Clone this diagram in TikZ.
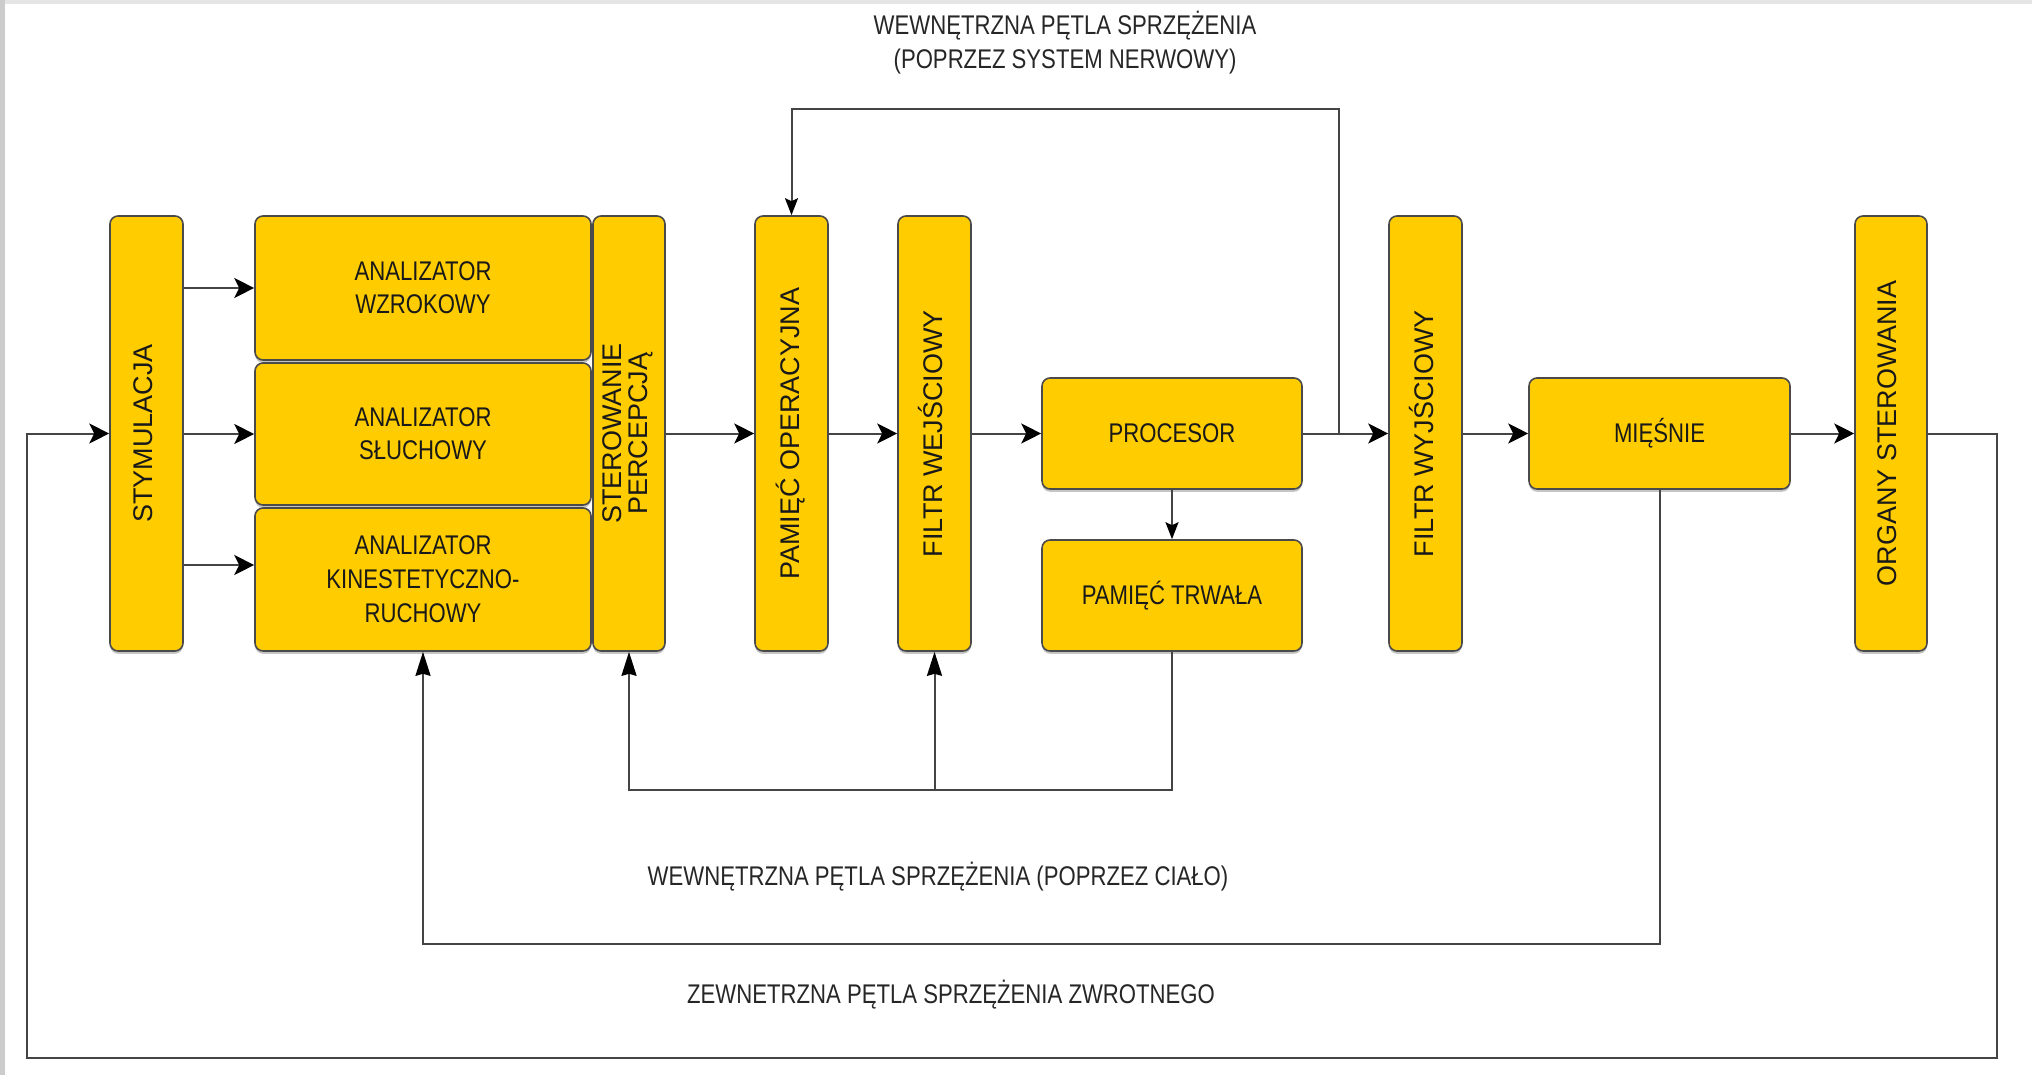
\documentclass[tikz,border=0pt]{standalone}
\usepackage{fontspec}
\setmainfont{Liberation Sans}
\newfontfamily\waski{Liberation Sans}[FakeStretch=0.82]
\usepackage{tikz}
\usetikzlibrary{arrows.meta,shadows}
\definecolor{zolty}{HTML}{FFCC00}
\definecolor{ramka}{HTML}{4A4A4A}
\definecolor{linia}{HTML}{444444}
\newcommand{\pion}[1]{\rotatebox{90}{\fontsize{13.5}{13}\selectfont\begin{tabular}{@{}c@{}}#1\end{tabular}}}
\tikzset{
	blok/.style={draw=ramka, fill=zolty, rounded corners=4pt, line width=0.8pt, inner sep=0pt,
		text=black!90, align=center, font=\waski\fontsize{13.5}{16.5}\selectfont,
		drop shadow={shadow xshift=0pt, shadow yshift=-1.4pt, opacity=0.45}},
	wysoki/.style={blok, minimum width=36.5pt, minimum height=217.5pt, font=\fontsize{13.5}{13}\selectfont},
	analiz/.style={blok, minimum width=168pt, minimum height=71.5pt},
	szeroki/.style={blok, minimum width=130pt, minimum height=55.5pt},
	pol/.style={draw=linia, line width=1pt},
	strz/.style={pol, -{Stealth[length=10pt, width=10pt, inset=2.5pt, black]}},
	strzm/.style={pol, -{Stealth[length=8.5pt, width=6.5pt, inset=1.5pt, black]}},
	strzw/.style={pol, -{Stealth[length=12pt, width=7.5pt, inset=1pt, black]}},
	etykieta/.style={text=black!85, align=center, font=\waski\fontsize{13.5}{17}\selectfont}
}
\begin{document}
\begin{tikzpicture}[x=0.5pt, y=-0.5pt]
		%%%%% START %%%%%
		
		\useasboundingbox (0,0) rectangle (2032,1075);
		\fill[white] (0,0) rectangle (2032,1075);
		\fill[gray!20] (0,0) rectangle (2032,4);
		\fill[gray!40] (0,0) rectangle (5,1075);
		
		\node[wysoki] (stym) at (146.5,433.5) {\pion{STYMULACJA}};
		
		\node[analiz, minimum height=72pt] (anwz) at (423,288) {ANALIZATOR\\WZROKOWY};
		\node[analiz, minimum height=71pt] (ansl) at (423,434) {ANALIZATOR\\SŁUCHOWY};
		\node[analiz, font=\waski\fontsize{13.5}{17}\selectfont] (ankr) at (423,579.5) {ANALIZATOR\\KINESTETYCZNO-\\RUCHOWY};
		\node[wysoki, minimum width=36pt] (sterp) at (629,433.5) {\pion{STEROWANIE\\PERCEPCJĄ}};
		
		\node[wysoki] (pamop) at (791.5,433.5) {\pion{PAMIĘĆ OPERACYJNA}};
		\node[wysoki] (filwe) at (934.5,433.5) {\pion{FILTR WEJŚCIOWY}};
		
		\node[szeroki] (proc) at (1172,433.5) {PROCESOR};
		\node[szeroki] (pamtr) at (1172,595.5) {PAMIĘĆ TRWAŁA};
		
		\node[wysoki] (filwy) at (1425.5,433.5) {\pion{FILTR WYJŚCIOWY}};
		\node[szeroki, minimum width=130.5pt] (misn) at (1659.5,433.5) {MIĘŚNIE};
		\node[wysoki, minimum width=36pt] (organy) at (1891,433.5) {\pion{ORGANY STEROWANIA}};
		
		% tor glowny
		\draw[strz] (stym.east |- anwz.west) -- (anwz.west);
		\draw[strz] (stym.east |- ansl.west) -- (ansl.west);
		\draw[strz] ([yshift=7.25pt]ankr.west -| stym.east) -- ([yshift=7.25pt]ankr.west);
		\draw[strz] (sterp.east) -- (pamop.west);
		\draw[strz] (pamop.east) -- (filwe.west);
		\draw[strz] (filwe.east) -- (proc.west);
		\coordinate (wezel) at (1339,433.5);
		\draw[strz] (proc.east) -- (filwy.west);
		\draw[strz] (filwy.east) -- (misn.west);
		\draw[strz] (misn.east) -- (organy.west);
		\draw[strzm] (proc.south) -- (pamtr.north);
		
		% petla przez system nerwowy
		\draw[strzm] (wezel) -- ++(0,-324.5) -| (pamop.north);
		
		% petla od pamieci trwalej
		\coordinate (rozgal) at (934.5,789);
		\draw[strzw] (pamtr.south) -- ++(0,138) -| (sterp.south);
		\draw[strzw] (rozgal) -- (filwe.south);
		
		% petla przez cialo
		\draw[strzw] (misn.south) -- ++(0,454) -| (ankr.south);
		
		% petla zewnetrzna
		\coordinate (rog1) at (1997,1058);
		\coordinate (rog2) at (27,433.5);
		\draw[strz] (organy.east) -| (rog1) -| (rog2) -- (stym.west);
		
		\node[etykieta] (lnerw) at (1065,43) {WEWNĘTRZNA PĘTLA SPRZĘŻENIA\\(POPRZEZ SYSTEM NERWOWY)};
		\node[etykieta] (lcialo) at (938,877) {WEWNĘTRZNA PĘTLA SPRZĘŻENIA (POPRZEZ CIAŁO)};
		\node[etykieta] (lzewn) at (951,995) {ZEWNETRZNA PĘTLA SPRZĘŻENIA ZWROTNEGO};
		
		%%%%% END %%%%%
	\end{tikzpicture}
\end{document}
